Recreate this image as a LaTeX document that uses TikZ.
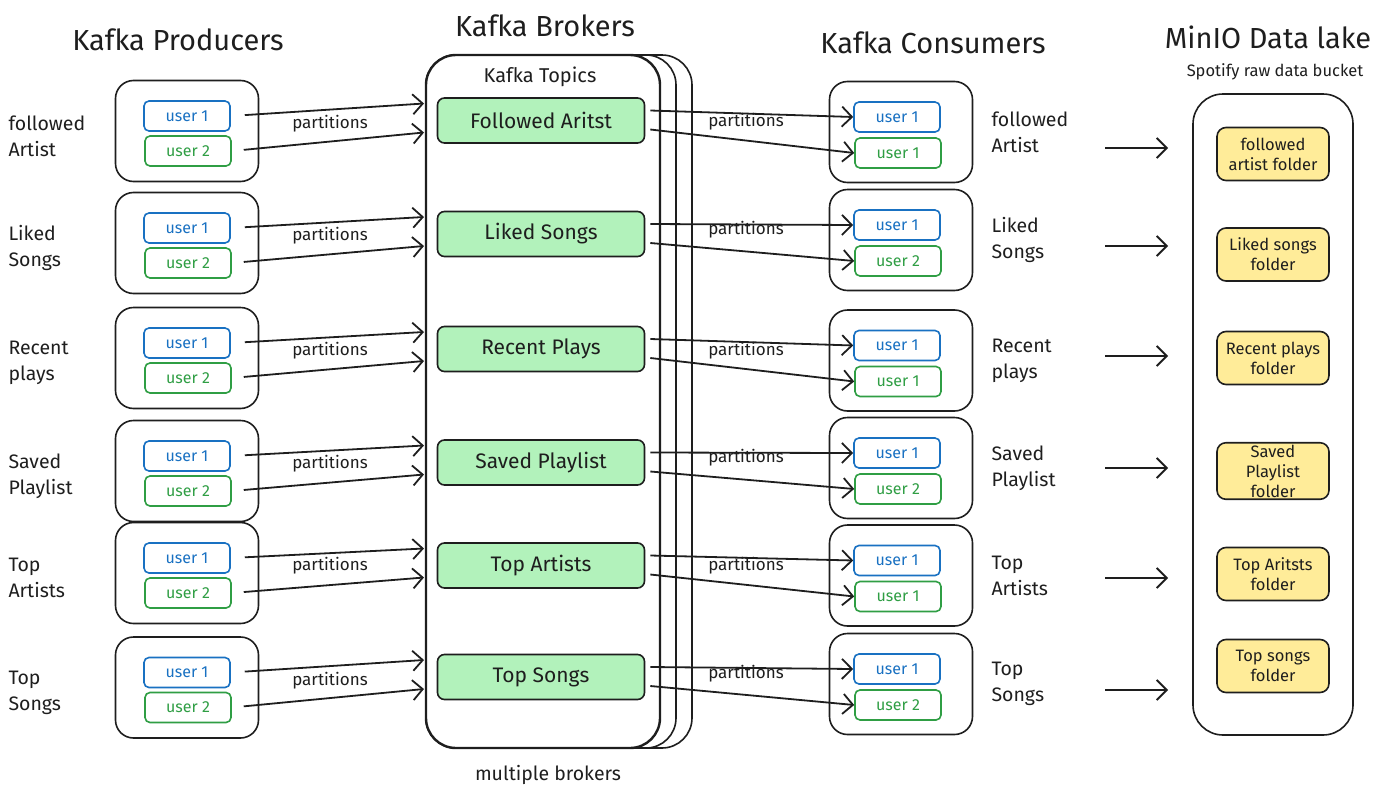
\documentclass[tikz,border=0pt]{standalone}
\usepackage{fontspec}
\setmainfont{Fira Sans}
\usetikzlibrary{calc,positioning,arrows.meta}
\definecolor{inkc}{HTML}{1E1E1E}
\definecolor{ublue}{HTML}{1971C2}
\definecolor{ugreen}{HTML}{2F9E44}
\definecolor{topicfill}{HTML}{B2F2BB}
\definecolor{folderfill}{HTML}{FFEC99}

\begin{document}
\begin{tikzpicture}[x=1pt,y=-1pt,
	ink/.style={draw=inkc,line width=1.6pt},
	group/.style={ink,fill=white,rounded corners=18pt,minimum width=143pt,minimum height=101pt},
	userbox/.style={draw=#1,text=#1,line width=1.6pt,rounded corners=5pt,minimum width=86pt,minimum height=30pt,inner sep=0pt,font=\fontsize{16}{18}\selectfont},
	topicbox/.style={ink,fill=topicfill,rounded corners=7pt,minimum width=207pt,minimum height=45pt,text=inkc,font=\fontsize{21}{24}\selectfont},
	folderbox/.style={ink,fill=folderfill,rounded corners=9pt,minimum width=112pt,minimum height=53pt,inner sep=2pt,align=center,text=inkc,font=\fontsize{16.5}{20}\selectfont},
	rowlabel/.style={align=left,text=inkc,font=\fontsize{19.5}{26}\selectfont},
	head/.style={text=inkc,font=\fontsize{29}{32}\selectfont},
	note/.style={text=inkc,font=\fontsize{17}{19}\selectfont},
	arr/.style={draw=inkc,line width=1.8pt,-{Straight Barb[length=10pt,width=20pt,line width=1.8pt]}}]
	\useasboundingbox (0,0) rectangle (1390,798);
	% brokers, stacked
	\node[ink,fill=white,rounded corners=30pt,minimum width=266pt,minimum height=693pt] (brk3) at (559,401.5) {};
	\node[ink,fill=white,rounded corners=30pt,minimum width=250pt,minimum height=693pt] (brk2) at (551,401.5) {};
	\node[ink,line width=2.4pt,fill=white,rounded corners=30pt,minimum width=234pt,minimum height=693pt] (brk) at (543,401.5) {};
	\node[ink,rounded corners=30pt,minimum width=160pt,minimum height=641pt] (lake) at (1273,414.5) {};
	% titles
	\node[head] (hprod) at (178,40) {Kafka Producers};
	\node[head] (hbrk) at (545,26) {Kafka Brokers};
	\node[head] (hcons) at (933,43) {Kafka Consumers};
	\node[head] (hlake) at (1268,37) {MinIO Data lake};
	\node[note,font=\fontsize{16.5}{18}\selectfont] (bucket) at (1275,72) {Spotify raw data bucket};
	\node[note,font=\fontsize{20}{22}\selectfont] (topics) at (540,77) {Kafka Topics};
	\node[note,font=\fontsize{19.5}{22}\selectfont] (multi) at (548,775) {multiple brokers};
	% one row per topic
	\foreach \i/\py/\ty/\cy/\fy/\ay/\lab/\topic/\ctwo/\folder in {
		1/131/120.5/132/154/148/{followed\\Artist}/{Followed Aritst}/{user 1}/{followed\\artist folder},
		2/243/234/240/254.5/246/{Liked\\Songs}/{Liked Songs}/{user 2}/{Liked songs\\folder},
		3/358/349/360.5/358/356/{Recent\\plays}/{Recent Plays}/{user 1}/{Recent plays\\folder},
		4/471/462.5/468/471/468/{Saved\\Playlist}/{Saved Playlist}/{user 2}/{Saved\\Playlist\\folder},
		5/573/565.5/575.5/574/578/{Top\\Artists}/{Top Artists}/{user 1}/{Top Aritsts\\folder},
		6/687.5/677/684/666/690/{Top\\Songs}/{Top Songs}/{user 2}/{Top songs\\folder}}{
		% producer
		\node[group] (p\i) at (187,\py) {};
		\node[userbox=ublue] (pa\i) at (187,\py-15) {user 1};
		\node[userbox=ugreen] (pb\i) at (188,\py+20) {user 2};
		\node[rowlabel,anchor=west] (pl\i) at (5,\py+5) {\lab};
		% topic
		\node[topicbox] (t\i) at (541,\ty) {\topic};
		\coordinate (ia\i) at (424,\ty-17);
		\coordinate (ib\i) at (424,\ty+12);
		\draw[arr,shorten <=14pt] (pa\i.east) -- (ia\i);
		\draw[arr,shorten <=12pt] (pb\i.east) -- (ib\i);
		\node[note] (pp\i) at (330,\py-7) {partitions};
		% consumer
		\node[group] (c\i) at (901,\cy) {};
		\node[userbox=ublue] (ca\i) at (897,\cy-15) {user 1};
		\node[userbox=ugreen] (cb\i) at (898,\cy+21) {\ctwo};
		\node[rowlabel,anchor=west] (cl\i) at (988,\cy) {\lab};
		\coordinate (oa\i) at ($(t\i.east)+(5,-10)$);
		\coordinate (ob\i) at ($(t\i.east)+(5,9)$);
		\draw[arr] (oa\i) -- (ca\i.west);
		\draw[arr] (ob\i) -- (cb\i.west);
		\node[note] (cp\i) at (746,\cy-10) {partitions};
		% data lake
		\node[folderbox] (f\i) at (1273,\fy) {\folder};
		\coordinate (la\i) at (1105,\ay);
		\coordinate (lb\i) at (1168,\ay);
		\draw[arr] (la\i) -- (lb\i);
	}
\end{tikzpicture}
\end{document}
